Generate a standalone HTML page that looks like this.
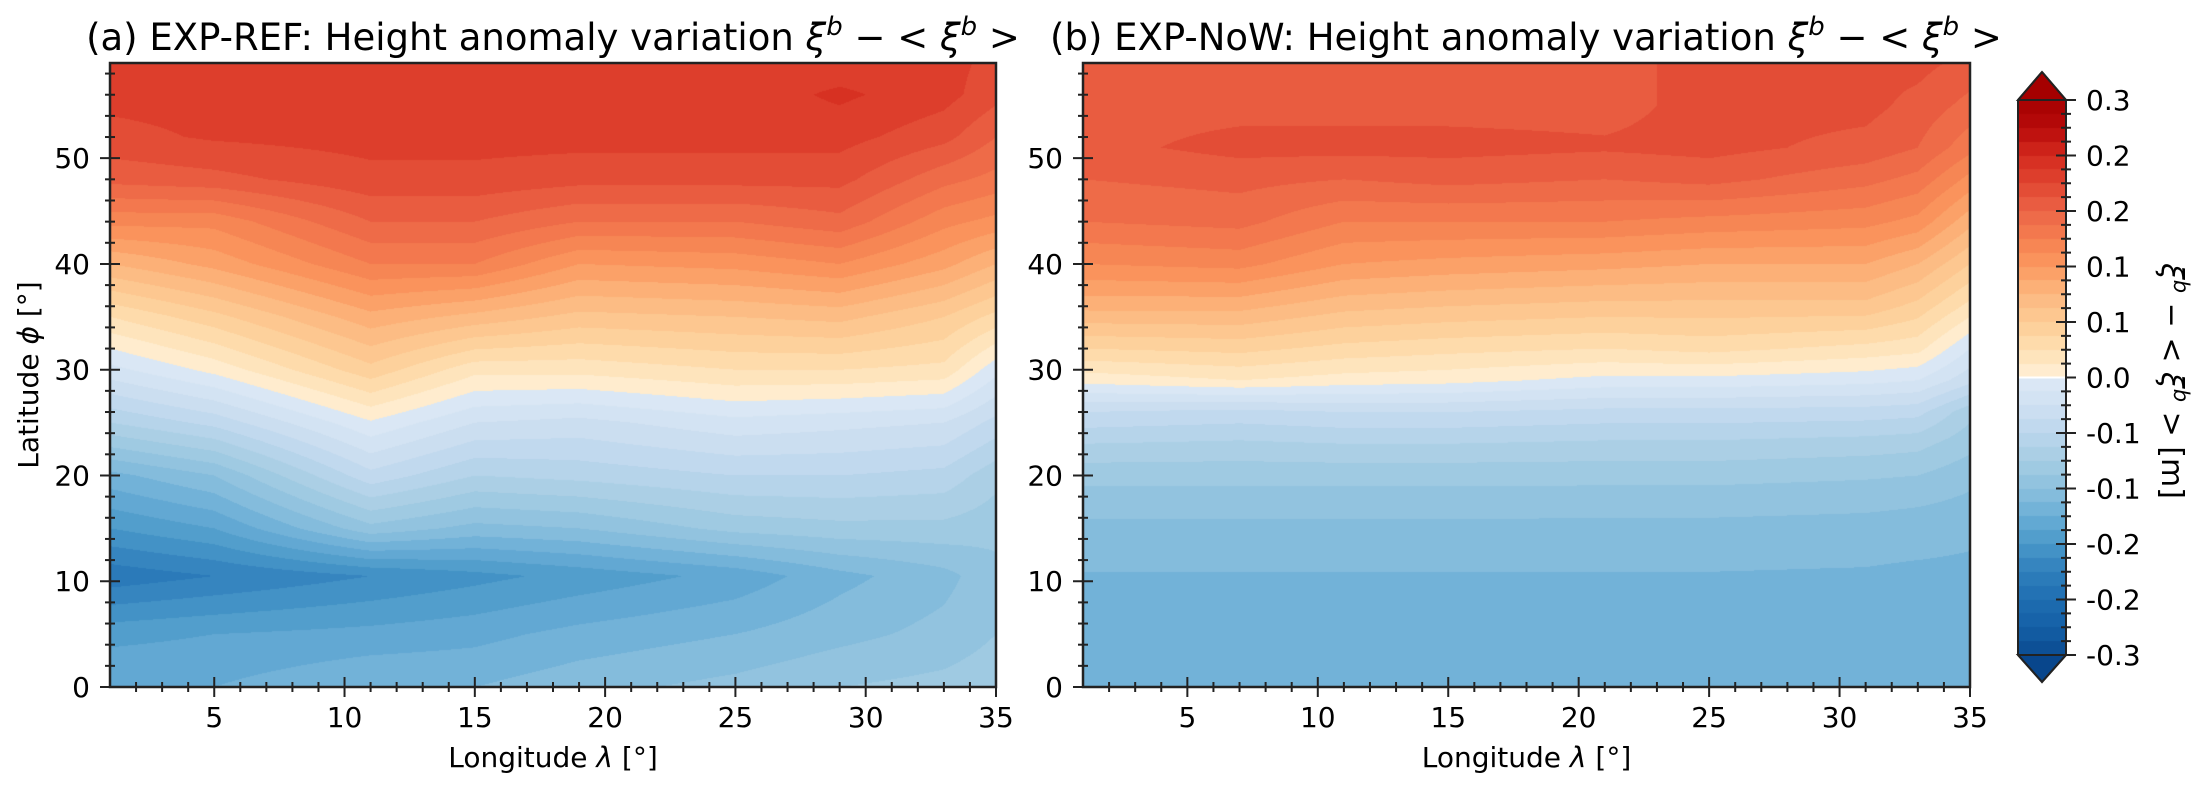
<!DOCTYPE html>
<html><head><meta charset="utf-8"><style>
html,body{margin:0;padding:0;background:#fff;}
#wrap{position:relative;width:2207px;height:788px;overflow:hidden;font-family:"DejaVu Sans","Liberation Sans",sans-serif;}
canvas{position:absolute;}
svg{position:absolute;left:0;top:0;}
</style></head><body>
<div id="wrap">
<canvas id="cA" width="886" height="624" style="left:110px;top:63px"></canvas>
<canvas id="cB" width="887" height="624" style="left:1083px;top:63px"></canvas>
<canvas id="cC" width="48" height="555" style="left:2018px;top:100px"></canvas>
<svg id="ov" width="2207" height="788" font-family="DejaVu Sans, Liberation Sans, sans-serif"></svg>
</div>
<script>
// ---- data ----
const latA=[0,5,10.5,15,20,25,30,35,40,44,48,52,56,59];
const lonA=[1,5,11,15,19,25,29,33,35];
const valA=[
[-0.15,-0.15,-0.135,-0.135,-0.125,-0.115,-0.105,-0.1,-0.095],
[-0.17,-0.165,-0.16,-0.155,-0.145,-0.135,-0.125,-0.115,-0.105],
[-0.22,-0.21,-0.195,-0.185,-0.175,-0.16,-0.14,-0.125,-0.11],
[-0.18,-0.165,-0.11,-0.125,-0.12,-0.1,-0.095,-0.095,-0.1],
[-0.14,-0.12,-0.05,-0.075,-0.07,-0.06,-0.06,-0.065,-0.085],
[-0.075,-0.055,-0.002,-0.03,-0.035,-0.02,-0.025,-0.03,-0.05],
[-0.02,0.005,0.055,0.02,0.02,0.03,0.03,0.025,-0.01],
[0.03,0.055,0.1,0.085,0.07,0.075,0.08,0.06,0.04],
[0.09,0.11,0.15,0.15,0.12,0.125,0.135,0.11,0.09],
[0.14,0.14,0.18,0.18,0.165,0.165,0.175,0.14,0.13],
[0.185,0.19,0.205,0.205,0.2,0.2,0.2,0.17,0.16],
[0.205,0.212,0.216,0.216,0.216,0.216,0.216,0.2,0.18],
[0.215,0.216,0.216,0.216,0.216,0.216,0.228,0.216,0.2],
[0.212,0.216,0.216,0.216,0.216,0.216,0.216,0.216,0.205]];
const latB=[0,10,14,17,20,23,26,29,32,36,40,44,48,51,55,59];
const lonB=[1,7,11,15,21,25,31,33,35];
const valB=[
[-0.14,-0.14,-0.14,-0.14,-0.14,-0.14,-0.14,-0.14,-0.14],
[-0.137,-0.137,-0.137,-0.137,-0.137,-0.137,-0.138,-0.14,-0.14],
[-0.128,-0.128,-0.128,-0.128,-0.128,-0.128,-0.129,-0.13,-0.133],
[-0.115,-0.115,-0.115,-0.115,-0.116,-0.116,-0.118,-0.12,-0.125],
[-0.1,-0.1,-0.1,-0.1,-0.1,-0.1,-0.103,-0.105,-0.115],
[-0.075,-0.078,-0.075,-0.075,-0.078,-0.078,-0.082,-0.085,-0.1],
[-0.045,-0.05,-0.045,-0.045,-0.05,-0.05,-0.052,-0.055,-0.085],
[0.005,0.015,0.008,0.005,-0.005,-0.005,-0.01,-0.015,-0.04],
[0.045,0.05,0.04,0.035,0.03,0.035,0.025,0.02,-0.015],
[0.095,0.095,0.08,0.075,0.07,0.07,0.07,0.055,0.025],
[0.135,0.14,0.12,0.115,0.11,0.105,0.105,0.09,0.06],
[0.165,0.17,0.15,0.15,0.15,0.145,0.14,0.13,0.095],
[0.18,0.185,0.18,0.185,0.18,0.185,0.17,0.16,0.13],
[0.19,0.2,0.2,0.2,0.197,0.2,0.19,0.18,0.155],
[0.19,0.19,0.19,0.19,0.19,0.2,0.2,0.19,0.175],
[0.19,0.19,0.19,0.19,0.19,0.2,0.2,0.2,0.19]];
const xTicks=[5,10,15,20,25,30,35];
const yTicks=[0,10,20,30,40,50];
const cbTicks=[-0.3,-0.24,-0.18,-0.12,-0.06,0,0.06,0.12,0.18,0.24,0.3];
const cbLabels=["-0.3","-0.2","-0.2","-0.1","-0.1","0.0","0.1","0.1","0.2","0.2","0.3"];
// ---- colormap ----
const stops=[[-0.3,"#0b4a90"],[-0.27,"#1460a6"],[-0.24,"#1f6db1"],[-0.21,"#2f7fbc"],[-0.18,"#4a98c9"],[-0.15,"#6aaed6"],[-0.12,"#8cc0de"],[-0.09,"#a5cde3"],[-0.06,"#bcd6ec"],[-0.03,"#d0e1f2"],[-0.0001,"#dde9f6"],[0,"#fff0d8"],[0.03,"#fee0b2"],[0.06,"#fdcc95"],[0.09,"#fcb77f"],[0.12,"#fb9a60"],[0.15,"#f57f50"],[0.18,"#ec6446"],[0.21,"#e04530"],[0.24,"#d42a1e"],[0.27,"#b80a0a"],[0.3,"#a50000"]];
function hx(h){return [parseInt(h.substr(1,2),16),parseInt(h.substr(3,2),16),parseInt(h.substr(5,2),16)];}
const stopsRGB=stops.map(s=>[s[0],hx(s[1])]);
function cmap(v){
  if(v<=stopsRGB[0][0])return stopsRGB[0][1];
  for(let i=0;i<stopsRGB.length-1;i++){const a=stopsRGB[i],b=stopsRGB[i+1];
    if(v<=b[0]){const t=(v-a[0])/(b[0]-a[0]||1);return [0,1,2].map(k=>a[1][k]+(b[1][k]-a[1][k])*t);}}
  return stopsRGB[stopsRGB.length-1][1];}
const STEP=0.015;
function bandColor(v){let i=Math.floor(v/STEP+1e-9);let m=(i+0.5)*STEP;
  if(m>0.3)m=0.3; if(m<-0.3)m=-0.3; return cmap(m);}
function seg(arr,x){let i=0;while(i<arr.length-2&&x>arr[i+1])i++;let t=(x-arr[i])/(arr[i+1]-arr[i]);t=Math.max(0,Math.min(1,t));return [i,t];}
function interp(lats,lons,vals,lat,lon){const [i,ti]=seg(lats,lat);const [j,tj]=seg(lons,lon);
  const a=vals[i][j],b=vals[i][j+1],c=vals[i+1][j],d=vals[i+1][j+1];
  return (a*(1-tj)+b*tj)*(1-ti)+(c*(1-tj)+d*tj)*ti;}
const XMIN=1,XMAX=35,YMIN=0,YMAX=59;
function drawField(id,lats,lons,vals){const c=document.getElementById(id),ctx=c.getContext('2d');
  const W=c.width,H=c.height,img=ctx.createImageData(W,H);
  for(let py=0;py<H;py++){const lat=YMAX-(py+0.5)/H*(YMAX-YMIN);
    for(let px=0;px<W;px++){const lon=XMIN+(px+0.5)/W*(XMAX-XMIN);
      const col=bandColor(interp(lats,lons,vals,lat,lon));const k=(py*W+px)*4;
      img.data[k]=col[0];img.data[k+1]=col[1];img.data[k+2]=col[2];img.data[k+3]=255;}}
  ctx.putImageData(img,0,0);}
drawField('cA',latA,lonA,valA);
drawField('cB',latB,lonB,valB);
(function(){const c=document.getElementById('cC'),ctx=c.getContext('2d');
  for(let py=0;py<c.height;py++){const v=0.3-(py+0.5)/c.height*0.6;const col=bandColor(v);
    ctx.fillStyle='rgb('+col.map(Math.round).join(',')+')';ctx.fillRect(0,py,c.width,1);}})();
// ---- overlay ----
const NS='http://www.w3.org/2000/svg';const ov=document.getElementById('ov');
function el(tag,attrs,parent){const e=document.createElementNS(NS,tag);for(const k in attrs)e.setAttribute(k,attrs[k]);(parent||ov).appendChild(e);return e;}
const panels=[{x0:110,x1:996,name:'a'},{x0:1083,x1:1970,name:'b'}];
const Y0=687,Y1=63;
function sx(p,v){return p.x0+(v-XMIN)/(XMAX-XMIN)*(p.x1-p.x0);}
function sy(v){return Y0-(v-YMIN)/(YMAX-YMIN)*(Y0-Y1);}
panels.forEach(p=>{
  for(let v=2;v<=35;v++){const x=sx(p,v);const maj=xTicks.indexOf(v)>=0;
    const t=el('line',{x1:x,x2:x,y1:Y0-(maj?10:5),y2:Y0+(maj?10:5),stroke:'#222','stroke-width':2});
    
    }
  for(let v=0;v<=58;v+=2){const y=sy(v);const maj=yTicks.indexOf(v)>=0;
    const t=el('line',{x1:p.x0-(maj?10:5),x2:p.x0+(maj?10:5),y1:y,y2:y,stroke:'#222','stroke-width':2});
    
    }
  xTicks.forEach(v=>{const t=el('text',{x:sx(p,v),y:727,'text-anchor':'middle','font-size':28});t.textContent=v;
    
    });
  yTicks.forEach(v=>{const t=el('text',{x:p.x0-20,y:sy(v)+10,'text-anchor':'end','font-size':28});t.textContent=v;
    
    });
  const f=el('rect',{x:p.x0,y:Y1,width:p.x1-p.x0,height:Y0-Y1,fill:'none',stroke:'#222','stroke-width':2.5});
  
  
  const xl=el('text',{x:(p.x0+p.x1)/2,y:767,'text-anchor':'middle','font-size':28});
  xl.innerHTML='Longitude <tspan font-style="italic">λ</tspan> [°]';
  
  
});
const CB0=655,CB1=100;function cy(v){return CB0-(v+0.3)/0.6*(CB0-CB1);}
for(let i=0;i<=40;i++){const v=-0.3+i*0.015;const maj=i%4===0;
  const t=el('line',{x1:2066-(maj?10:5),x2:2066+(maj?10:5),y1:cy(v),y2:cy(v),stroke:'#222','stroke-width':2});
  
  }
cbTicks.forEach((v,i)=>{const t=el('text',{x:2086,y:cy(v)+10,'font-size':28});t.textContent=cbLabels[i];
  
  });
</script>
<svg width="2207" height="788" style="position:absolute;left:0;top:0;pointer-events:none">
<g font-family="DejaVu Sans, Liberation Sans, sans-serif">
<text x="553" y="50" text-anchor="middle" font-size="37">(a) EXP-REF: Height anomaly variation <tspan font-style="italic">ξ</tspan><tspan font-style="italic" font-size="26" dy="-15">b</tspan><tspan dy="15"> − &lt; </tspan><tspan font-style="italic">ξ</tspan><tspan font-style="italic" font-size="26" dy="-15">b</tspan><tspan dy="15"> &gt;</tspan></text>
<text x="1526" y="50" text-anchor="middle" font-size="37">(b) EXP-NoW: Height anomaly variation <tspan font-style="italic">ξ</tspan><tspan font-style="italic" font-size="26" dy="-15">b</tspan><tspan dy="15"> − &lt; </tspan><tspan font-style="italic">ξ</tspan><tspan font-style="italic" font-size="26" dy="-15">b</tspan><tspan dy="15"> &gt;</tspan></text>
<text transform="translate(38,375) rotate(-90)" text-anchor="middle" font-size="28">Latitude <tspan font-style="italic">ϕ</tspan> [°]</text>
<polygon points="2018,100 2042,72 2066,100" fill="#a50000" stroke="#222" stroke-width="2"/>
<polygon points="2018,655 2042,682 2066,655" fill="#08468c" stroke="#222" stroke-width="2"/>
<line x1="2019" x2="2065" y1="377.5" y2="377.5" stroke="#fff" stroke-width="2"/>
<polyline points="2042,72 2066,100 2066,655 2042,682 2018,655 2018,100 2042,72" fill="none" stroke="#222" stroke-width="2"/>
<text transform="translate(2162,381) rotate(90)" text-anchor="middle" font-size="30"><tspan font-style="italic">ξ</tspan><tspan font-style="italic" font-size="21" dy="-12">b</tspan><tspan dy="12"> − &lt; </tspan><tspan font-style="italic">ξ</tspan><tspan font-style="italic" font-size="21" dy="-12">b</tspan><tspan dy="12"> &gt; [m]</tspan></text>
</g>
</svg>
</body></html>
